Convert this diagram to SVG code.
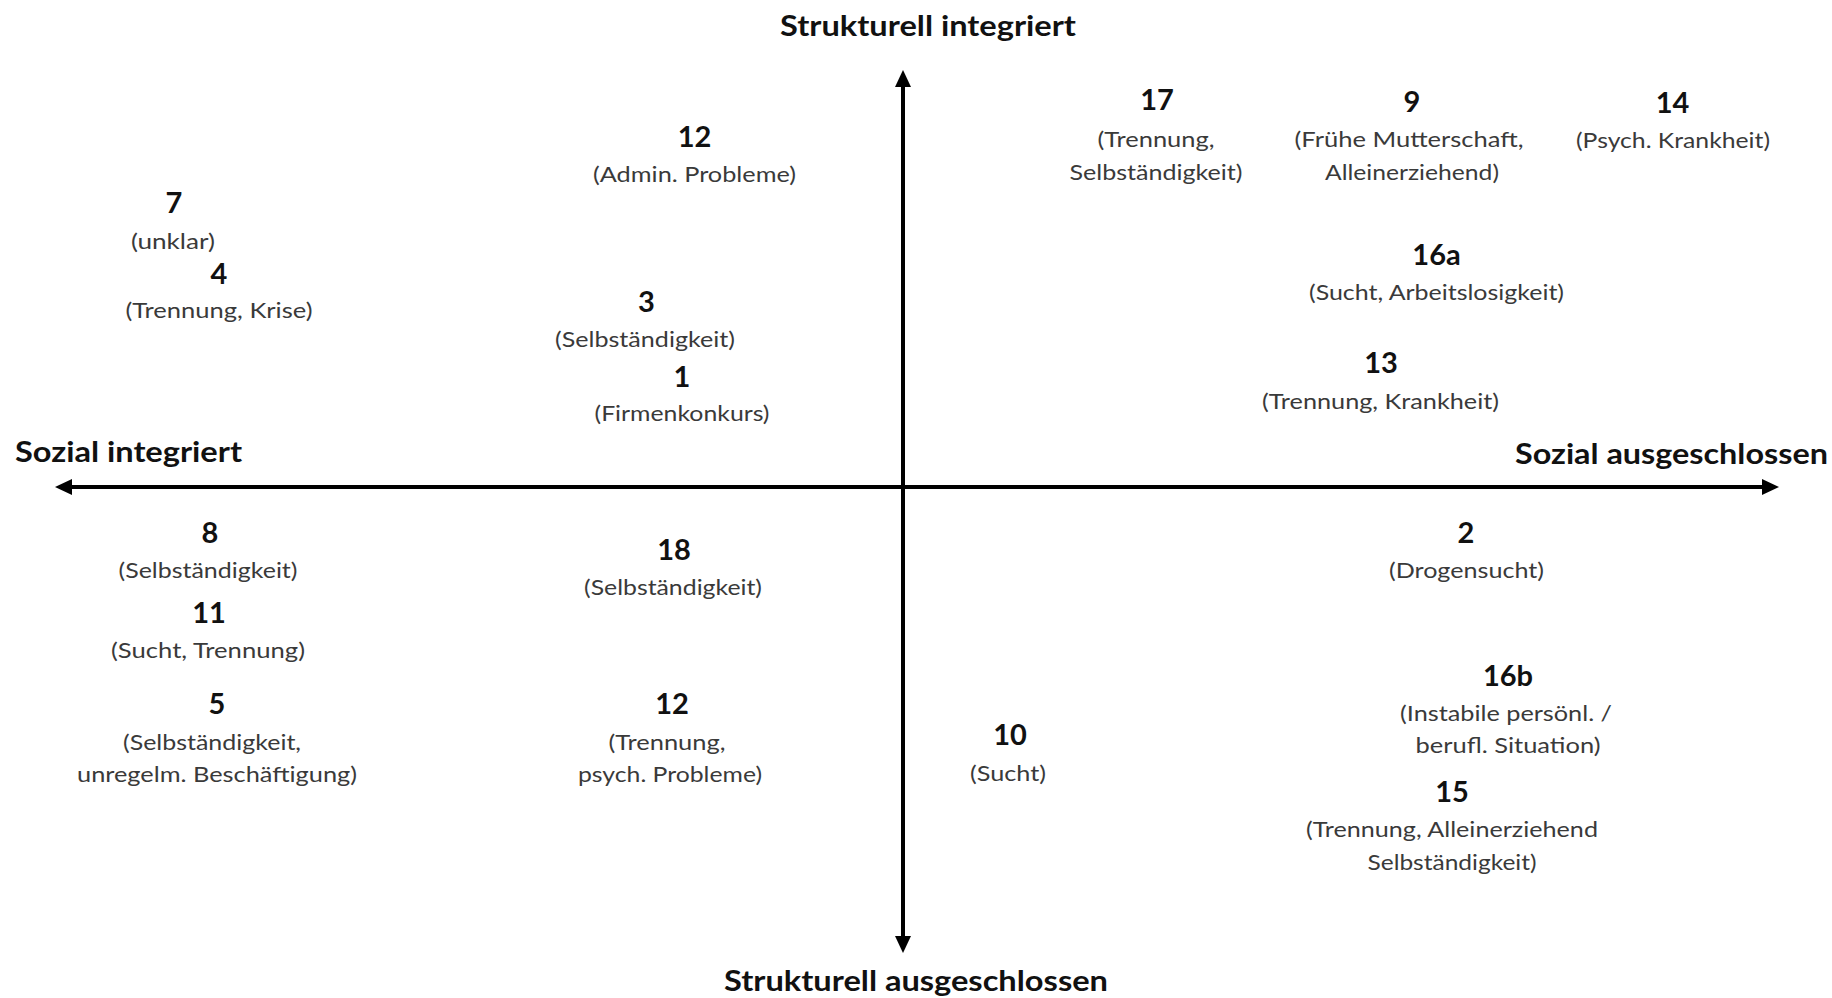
<svg xmlns="http://www.w3.org/2000/svg" width="1832" height="998" viewBox="0 0 1832 998">
<style>
.ax{font-family:Lato,"Open Sans","Liberation Sans",sans-serif;font-weight:bold;font-size:29px;fill:#111}
.num{font-family:Lato,"Open Sans","Liberation Sans",sans-serif;font-weight:bold;font-size:29px;fill:#111;text-anchor:middle}
.sub{font-family:Lato,"Open Sans","Liberation Sans",sans-serif;font-size:21px;fill:#3a3a3a;text-anchor:middle}
.axis{stroke:#000;stroke-width:4;fill:none}
</style>
<defs>
<marker id="arr" markerUnits="userSpaceOnUse" markerWidth="18" markerHeight="18" refX="2" refY="8" orient="auto-start-reverse">
<path d="M0,0 L17,8 L0,16 z" fill="#000"/>
</marker>
</defs>
<rect width="1832" height="998" fill="#fff"/>
<g id="connectors">
<line class="axis" x1="903" y1="85" x2="903" y2="938" marker-start="url(#arr)" marker-end="url(#arr)"/>
<line class="axis" x1="70" y1="487" x2="1764" y2="487" marker-start="url(#arr)" marker-end="url(#arr)"/>
</g>
<g id="axis-labels">
<text class="ax" x="928" y="36" text-anchor="middle" textLength="296" lengthAdjust="spacingAndGlyphs">Strukturell integriert</text>
<text class="ax" x="916" y="991" text-anchor="middle" textLength="384" lengthAdjust="spacingAndGlyphs">Strukturell ausgeschlossen</text>
<text class="ax" x="15" y="462" textLength="227" lengthAdjust="spacingAndGlyphs">Sozial integriert</text>
<text class="ax" x="1515" y="464" textLength="313" lengthAdjust="spacingAndGlyphs">Sozial ausgeschlossen</text>
</g>
<g id="n12a"><text class="num" x="694.5" y="147">12</text><text class="sub" x="694.5" y="182" textLength="203" lengthAdjust="spacingAndGlyphs">(Admin. Probleme)</text></g>
<g id="n7"><text class="num" x="174" y="213">7</text><text class="sub" x="173" y="249" textLength="84" lengthAdjust="spacingAndGlyphs">(unklar)</text></g>
<g id="n4"><text class="num" x="219" y="284">4</text><text class="sub" x="219" y="318" textLength="187" lengthAdjust="spacingAndGlyphs">(Trennung, Krise)</text></g>
<g id="n3"><text class="num" x="646.5" y="312">3</text><text class="sub" x="645" y="347" textLength="180" lengthAdjust="spacingAndGlyphs">(Selbständigkeit)</text></g>
<g id="n1"><text class="num" x="682" y="387">1</text><text class="sub" x="682" y="421" textLength="175" lengthAdjust="spacingAndGlyphs">(Firmenkonkurs)</text></g>
<g id="n17"><text class="num" x="1157" y="110">17</text><text class="sub" x="1156" y="147" textLength="117" lengthAdjust="spacingAndGlyphs">(Trennung,</text><text class="sub" x="1156" y="180" textLength="173" lengthAdjust="spacingAndGlyphs">Selbständigkeit)</text></g>
<g id="n9"><text class="num" x="1412" y="112">9</text><text class="sub" x="1409" y="147" textLength="229" lengthAdjust="spacingAndGlyphs">(Frühe Mutterschaft,</text><text class="sub" x="1412" y="180" textLength="174" lengthAdjust="spacingAndGlyphs">Alleinerziehend)</text></g>
<g id="n14"><text class="num" x="1672.5" y="113">14</text><text class="sub" x="1673" y="148" textLength="194" lengthAdjust="spacingAndGlyphs">(Psych. Krankheit)</text></g>
<g id="n16a"><text class="num" x="1436.5" y="265">16a</text><text class="sub" x="1436.5" y="300" textLength="255" lengthAdjust="spacingAndGlyphs">(Sucht, Arbeitslosigkeit)</text></g>
<g id="n13"><text class="num" x="1381" y="373">13</text><text class="sub" x="1380.5" y="409" textLength="237" lengthAdjust="spacingAndGlyphs">(Trennung, Krankheit)</text></g>
<g id="n8"><text class="num" x="210" y="543">8</text><text class="sub" x="208" y="578" textLength="179" lengthAdjust="spacingAndGlyphs">(Selbständigkeit)</text></g>
<g id="n11"><text class="num" x="209" y="623">11</text><text class="sub" x="208" y="658" textLength="194" lengthAdjust="spacingAndGlyphs">(Sucht, Trennung)</text></g>
<g id="n5"><text class="num" x="217" y="714">5</text><text class="sub" x="212" y="750" textLength="178" lengthAdjust="spacingAndGlyphs">(Selbständigkeit,</text><text class="sub" x="217" y="782" textLength="280" lengthAdjust="spacingAndGlyphs">unregelm. Beschäftigung)</text></g>
<g id="n18"><text class="num" x="674" y="560">18</text><text class="sub" x="673" y="595" textLength="178" lengthAdjust="spacingAndGlyphs">(Selbständigkeit)</text></g>
<g id="n12b"><text class="num" x="672" y="714">12</text><text class="sub" x="667" y="750" textLength="117" lengthAdjust="spacingAndGlyphs">(Trennung,</text><text class="sub" x="670" y="782" textLength="184" lengthAdjust="spacingAndGlyphs">psych. Probleme)</text></g>
<g id="n2"><text class="num" x="1466" y="543">2</text><text class="sub" x="1466.5" y="578" textLength="155" lengthAdjust="spacingAndGlyphs">(Drogensucht)</text></g>
<g id="n16b"><text class="num" x="1508" y="686">16b</text><text class="sub" x="1506" y="721" textLength="212" lengthAdjust="spacingAndGlyphs">(Instabile persönl. /</text><text class="sub" x="1508" y="753" textLength="185" lengthAdjust="spacingAndGlyphs">berufl. Situation)</text></g>
<g id="n15"><text class="num" x="1452" y="802">15</text><text class="sub" x="1452" y="837" textLength="292" lengthAdjust="spacingAndGlyphs">(Trennung, Alleinerziehend</text><text class="sub" x="1452" y="870" textLength="169" lengthAdjust="spacingAndGlyphs">Selbständigkeit)</text></g>
<g id="n10"><text class="num" x="1010" y="745">10</text><text class="sub" x="1008" y="781" textLength="76" lengthAdjust="spacingAndGlyphs">(Sucht)</text></g>
</svg>
